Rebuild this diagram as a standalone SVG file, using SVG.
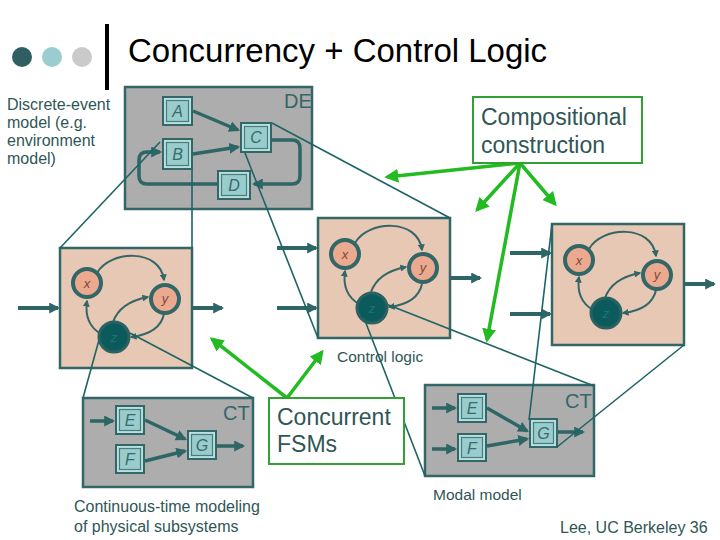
<svg xmlns="http://www.w3.org/2000/svg" width="720" height="540" viewBox="0 0 720 540">
<defs>
<style>
.t{font-family:"Liberation Sans",Arial,sans-serif;fill:#2F5656}
.lbl{font-family:"Liberation Sans",Arial,sans-serif;font-style:italic;fill:#3A6A6A;font-size:16px;text-anchor:middle}
.flbl{font-family:"Liberation Sans",Arial,sans-serif;font-style:italic;fill:#7A4A3A;font-size:13px;text-anchor:middle}
.gbox{fill:#ADADAD;stroke:#336666;stroke-width:2.5}
.fbox{fill:#E6C8B4;stroke:#336666;stroke-width:2.5}
.bo{fill:#336666}
.bi{fill:#B8E0E0}
.bf{fill:#99CCCC;stroke:#4A7C7C;stroke-width:1.2}
.st{fill:#EBAA90;stroke:#336666;stroke-width:4}
.sz{fill:#0B5A5C;stroke:#2A6262;stroke-width:3}
.arc{fill:none;stroke:#336666;stroke-width:2;marker-end:url(#sm)}
.thk{fill:none;stroke:#2E6666;stroke-width:4;marker-end:url(#ta)}
.blk{fill:none;stroke:#2E6666;stroke-width:3.5;marker-end:url(#ta)}
.ln{fill:none;stroke:#1E6464;stroke-width:1.6}
.gr{fill:none;stroke:#22BB22;stroke-width:3.5;marker-end:url(#ga)}
.gb{fill:#fff;stroke:#33A033;stroke-width:2}
</style>
<marker id="ta" viewBox="0 0 10 10" refX="8" refY="5" markerWidth="11" markerHeight="11" markerUnits="userSpaceOnUse" orient="auto"><path d="M0,0 L10,5 L0,10 z" fill="#2E6666"/></marker>
<marker id="sm" viewBox="0 0 10 10" refX="8" refY="5" markerWidth="7" markerHeight="7" markerUnits="userSpaceOnUse" orient="auto"><path d="M0,0 L10,5 L0,10 z" fill="#336666"/></marker>
<marker id="ga" viewBox="0 0 10 10" refX="8" refY="5" markerWidth="14" markerHeight="14" markerUnits="userSpaceOnUse" orient="auto"><path d="M0,0 L10,5 L0,10 z" fill="#22BB22"/></marker>
</defs>

<g id="title">
<circle cx="22" cy="57" r="10" fill="#2F5F62"/>
<circle cx="52" cy="57" r="10" fill="#99CDD0"/>
<circle cx="82" cy="57" r="10" fill="#CACACA"/>
<rect x="105" y="24" width="4" height="66" fill="#000"/>
<text x="128" y="62" font-family="Liberation Sans, Arial, sans-serif" font-size="33" fill="#000">Concurrency + Control Logic</text>
</g>

<g id="de-label">
<text class="t" font-size="16"><tspan x="7" y="110">Discrete-event</tspan><tspan x="7" y="128">model (e.g.</tspan><tspan x="7" y="146">environment</tspan><tspan x="7" y="164">model)</tspan></text>
</g>

<g id="de-model">
<rect class="gbox" x="125" y="87" width="187" height="122"/>
<text x="284" y="108" font-family="Liberation Sans, Arial, sans-serif" font-size="20" fill="#336666">DE</text>
<path class="blk" d="M272,140 L292,140 Q300,140 300,148 L300,176 Q300,184 292,184 L254,184"/>
<path class="blk" d="M217,184 L147,184 Q139,184 139,176 L139,160 Q139,152 147,152 L160,152"/>
<line class="blk" x1="193" y1="111" x2="238" y2="130"/>
<line class="blk" x1="193" y1="154" x2="238" y2="147"/>
<g id="blockA"><rect class="bo" x="162" y="96" width="31" height="30"/><rect class="bi" x="164" y="98" width="27" height="26"/><rect class="bf" x="166.500" y="100.500" width="22" height="21"/><text class="lbl" x="177.500" y="117">A</text></g>
<g id="blockB"><rect class="bo" x="162" y="138" width="31" height="32"/><rect class="bi" x="164" y="140" width="27" height="28"/><rect class="bf" x="166.500" y="142.500" width="22" height="23"/><text class="lbl" x="177.500" y="160">B</text></g>
<g id="blockC"><rect class="bo" x="240" y="122" width="32" height="31"/><rect class="bi" x="242" y="124" width="28" height="27"/><rect class="bf" x="244.500" y="126.500" width="23" height="22"/><text class="lbl" x="256" y="143">C</text></g>
<g id="blockD"><rect class="bo" x="217" y="170" width="34" height="30"/><rect class="bi" x="219" y="172" width="30" height="26"/><rect class="bf" x="221.500" y="174.500" width="25" height="21"/><text class="lbl" x="234" y="191">D</text></g>
</g>

<g id="fsm-left" transform="translate(60,248)">
<rect class="fbox" x="0" y="0" width="132" height="120"/>
<path class="arc" d="M37,25 C50,2 100,0 104,32"/>
<path class="arc" d="M53,74 C58,60 72,52 88,49"/>
<path class="arc" d="M104,66 C101,80 88,87 71,89"/>
<path class="arc" d="M41,86 C29,79 25,67 27,53"/>
<circle class="st" cx="27" cy="35" r="14"/>
<circle class="st" cx="105" cy="51" r="14"/>
<circle class="sz" cx="54" cy="89" r="15"/>
<text class="flbl" x="27" y="40">x</text>
<text class="flbl" x="105" y="55">y</text>
<text class="flbl" x="54" y="94" style="fill:#1D7474">z</text>
</g>

<g id="fsm-mid" transform="translate(318,218)">
<rect class="fbox" x="0" y="0" width="132" height="120"/>
<path class="arc" d="M37,25 C50,2 100,0 104,32"/>
<path class="arc" d="M53,74 C58,60 72,52 88,49"/>
<path class="arc" d="M104,66 C101,80 88,87 71,89"/>
<path class="arc" d="M41,86 C29,79 25,67 27,53"/>
<circle class="st" cx="27" cy="36" r="14"/>
<circle class="st" cx="105" cy="50" r="14"/>
<circle class="sz" cx="54" cy="90" r="15"/>
<text class="flbl" x="27" y="41">x</text>
<text class="flbl" x="105" y="54">y</text>
<text class="flbl" x="54" y="95" style="fill:#1D7474">z</text>
</g>

<g id="fsm-right" transform="translate(552,224)">
<rect class="fbox" x="0" y="0" width="132" height="121"/>
<path class="arc" d="M37,25 C50,2 100,0 104,32"/>
<path class="arc" d="M53,74 C58,60 72,52 88,49"/>
<path class="arc" d="M104,66 C101,80 88,87 71,89"/>
<path class="arc" d="M41,86 C29,79 25,67 27,53"/>
<circle class="st" cx="27" cy="36" r="14"/>
<circle class="st" cx="105" cy="51" r="14"/>
<circle class="sz" cx="54" cy="89" r="15"/>
<text class="flbl" x="27" y="41">x</text>
<text class="flbl" x="105" y="55">y</text>
<text class="flbl" x="54" y="94" style="fill:#1D7474">z</text>
</g>

<g id="io-arrows">
<line class="thk" x1="18" y1="308" x2="58" y2="308"/>
<line class="thk" x1="192" y1="308" x2="222" y2="308"/>
<line class="thk" x1="277" y1="248" x2="316" y2="248"/>
<line class="thk" x1="277" y1="308" x2="316" y2="308"/>
<line class="thk" x1="450" y1="278" x2="480" y2="278"/>
<line class="thk" x1="510" y1="253" x2="550" y2="253"/>
<line class="thk" x1="510" y1="314" x2="550" y2="314"/>
<line class="thk" x1="684" y1="284" x2="714" y2="284"/>
</g>

<g id="ct-model">
<rect class="gbox" x="83" y="398" width="170" height="89"/>
<text x="223" y="420" font-family="Liberation Sans, Arial, sans-serif" font-size="20" fill="#336666">CT</text>
<line class="blk" x1="90" y1="421" x2="113" y2="421"/>
<line class="blk" x1="145" y1="420" x2="185" y2="439"/>
<line class="blk" x1="145" y1="461" x2="185" y2="451"/>
<line class="blk" x1="217" y1="446" x2="243" y2="446"/>
<g id="ctE"><rect class="bo" x="115" y="405" width="30" height="30"/><rect class="bi" x="117" y="407" width="26" height="26"/><rect class="bf" x="119.500" y="409.500" width="21" height="21"/><text class="lbl" x="130" y="426">E</text></g>
<g id="ctF"><rect class="bo" x="115" y="444" width="30" height="30"/><rect class="bi" x="117" y="446" width="26" height="26"/><rect class="bf" x="119.500" y="448.500" width="21" height="21"/><text class="lbl" x="130" y="465">F</text></g>
<g id="ctG"><rect class="bo" x="187" y="430" width="30" height="30"/><rect class="bi" x="189" y="432" width="26" height="26"/><rect class="bf" x="191.500" y="434.500" width="21" height="21"/><text class="lbl" x="202" y="451">G</text></g>
</g>

<g id="modal-model">
<rect class="gbox" x="425" y="385" width="169" height="91"/>
<text x="565" y="408" font-family="Liberation Sans, Arial, sans-serif" font-size="20" fill="#336666">CT</text>
<line class="blk" x1="432" y1="408" x2="455" y2="408"/>
<line class="blk" x1="432" y1="449" x2="455" y2="449"/>
<line class="blk" x1="487" y1="408" x2="527" y2="431"/>
<line class="blk" x1="487" y1="446" x2="527" y2="439"/>
<line class="blk" x1="558" y1="432" x2="583" y2="432"/>
<g id="mE"><rect class="bo" x="457" y="393" width="30" height="30"/><rect class="bi" x="459" y="395" width="26" height="26"/><rect class="bf" x="461.500" y="397.500" width="21" height="21"/><text class="lbl" x="472" y="414">E</text></g>
<g id="mF"><rect class="bo" x="457" y="433" width="30" height="29"/><rect class="bi" x="459" y="435" width="26" height="25"/><rect class="bf" x="461.500" y="437.500" width="21" height="20"/><text class="lbl" x="472" y="454">F</text></g>
<g id="mG"><rect class="bo" x="529" y="418" width="29" height="30"/><rect class="bi" x="531" y="420" width="25" height="26"/><rect class="bf" x="533.500" y="422.500" width="20" height="21"/><text class="lbl" x="543.500" y="439">G</text></g>
</g>

<g id="connectors">
<line class="ln" x1="192" y1="170" x2="192" y2="248"/>
<line class="ln" x1="160" y1="142" x2="60" y2="248"/>
<line class="ln" x1="272" y1="123" x2="450" y2="218"/>
<line class="ln" x1="245" y1="153" x2="318" y2="338"/>
<line class="ln" x1="99" y1="340" x2="83" y2="398"/>
<line class="ln" x1="130" y1="333" x2="253" y2="398"/>
<line class="ln" x1="364" y1="318" x2="425" y2="476"/>
<line class="ln" x1="386" y1="304" x2="594" y2="386"/>
<line class="ln" x1="552" y1="224" x2="529" y2="420"/>
<line class="ln" x1="684" y1="345" x2="557" y2="447"/>
</g>

<g id="ct-label">
<text class="t" font-size="16"><tspan x="74" y="512">Continuous-time modeling</tspan><tspan x="74" y="532">of physical subsystems</tspan></text>
</g>
<g id="modal-label"><text class="t" x="433" y="500" font-size="15.500">Modal model</text></g>
<g id="control-label"><text class="t" x="337" y="362" font-size="15.500">Control logic</text></g>

<g id="green-arrows">
<line class="gr" x1="520" y1="163" x2="387" y2="177"/>
<line class="gr" x1="520" y1="163" x2="477" y2="210"/>
<line class="gr" x1="520" y1="163" x2="555" y2="204"/>
<line class="gr" x1="520" y1="163" x2="487" y2="340"/>
<line class="gr" x1="287" y1="398" x2="212" y2="339"/>
<line class="gr" x1="287" y1="398" x2="322" y2="352"/>
</g>

<g id="compositional">
<rect class="gb" x="473" y="97" width="169" height="66"/>
<text class="t" font-size="23"><tspan x="481" y="125">Compositional</tspan><tspan x="481" y="153">construction</tspan></text>
</g>

<g id="concurrent">
<rect class="gb" x="269" y="398" width="135" height="66"/>
<text class="t" font-size="23"><tspan x="277" y="425">Concurrent</tspan><tspan x="277" y="452">FSMs</tspan></text>
</g>

<g id="lee"><text class="t" x="560" y="533" font-size="16">Lee, UC Berkeley 36</text></g>
</svg>
